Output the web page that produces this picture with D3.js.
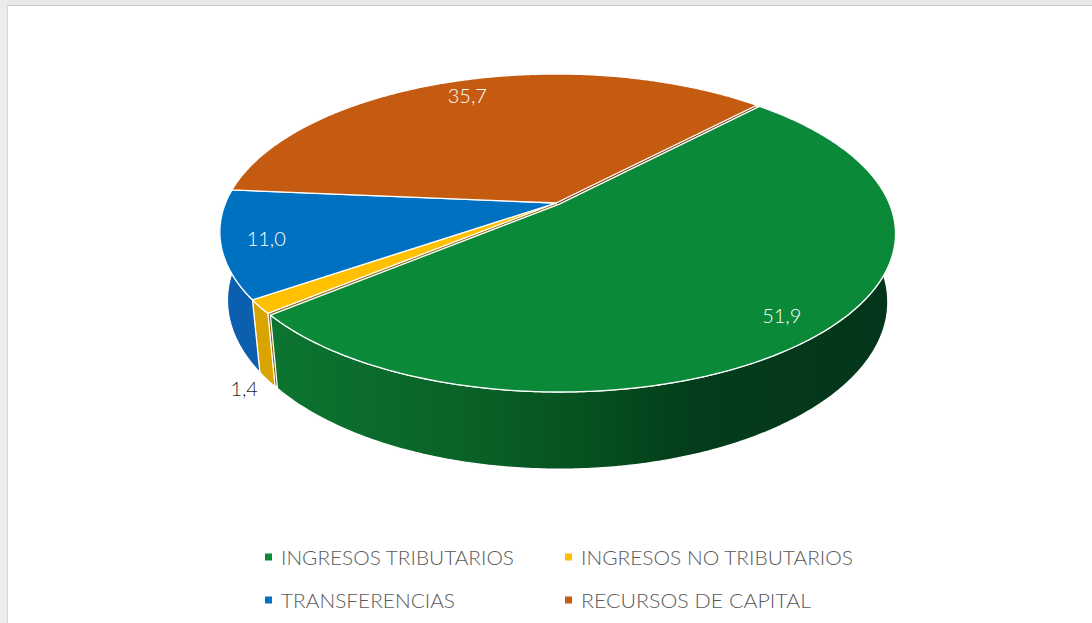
<!DOCTYPE html>
<html><head><meta charset="utf-8">
<script src="https://cdn.jsdelivr.net/npm/d3@7"></script>
<style>html,body{margin:0;padding:0;background:#fff;overflow:hidden}</style>
</head><body>
<svg id="c" width="1092" height="623"></svg>
<script>
const categories = ["INGRESOS TRIBUTARIOS","INGRESOS NO TRIBUTARIOS","TRANSFERENCIAS","RECURSOS DE CAPITAL"];
const values = [51.9, 1.4, 11.0, 35.7];
const valueLabels = ["51,9","1,4","11,0","35,7"];
const topColors = ["#0a8a38","#ffc000","#0070c0","#c55a11"];
const legendColors = ["#0a8a38","#ffc000","#0070c0","#c55a11"];

const W = 1092, H = 623;
const svg = d3.select("#c");
svg.append("rect").attr("width",W).attr("height",H).attr("fill","#fff");
// screenshot frame bits
svg.append("rect").attr("x",0).attr("y",0).attr("width",W).attr("height",5).attr("fill","#e7e8ea");
svg.append("rect").attr("x",0).attr("y",0).attr("width",7).attr("height",H).attr("fill","#ececec");
svg.append("line").attr("x1",7).attr("x2",W).attr("y1",5.5).attr("y2",5.5).attr("stroke","#c4c4c4");
svg.append("line").attr("x1",7.5).attr("x2",7.5).attr("y1",5).attr("y2",H).attr("stroke","#d6d6d6");

// perspective projection of a cylinder (radius 1)
const P = {cx:556, cy:203, f:1597, s:0.462, c:0.887, D:4.833, h:0.2348};
function proj(x, z, y){
  const Yc = y*P.c + z*P.s, Zc = P.D + z*P.c - y*P.s;
  return [P.cx + P.f*x/Zc, P.cy - P.f*Yc/Zc];
}
const b0 = 43.5*Math.PI/180;
const pie = d3.pie().sort(null).value(d=>d).startAngle(b0).endAngle(b0+2*Math.PI);
const arcs = pie(values);
const explode = [0.012,0,0,0];
arcs.forEach((a,i)=>{
  const m=(a.startAngle+a.endAngle)/2;
  a.ox = explode[i]*Math.sin(m); a.oz = explode[i]*Math.cos(m);
  a.mid = m;
});
function arcPts(a, t0, t1, y, r){
  r = r===undefined?1:r;
  const n = Math.max(2, Math.ceil(Math.abs(t1-t0)/0.01));
  const pts=[];
  for(let k=0;k<=n;k++){
    const t = t0+(t1-t0)*k/n;
    pts.push(proj(a.ox + r*Math.sin(t), a.oz + r*Math.cos(t), y));
  }
  return pts;
}
const line = d3.line();
const defs = svg.append("defs");
function grad(id, stops){
  const g = defs.append("linearGradient").attr("id",id).attr("gradientUnits","userSpaceOnUse")
    .attr("x1",220).attr("x2",893).attr("y1",0).attr("y2",0);
  stops.forEach(s=>g.append("stop").attr("offset",s[0]).attr("stop-color",s[1]));
}
grad("gw0",[[0,"#0c7631"],[0.1,"#0c7330"],[0.35,"#0a6328"],[0.55,"#06501f"],[0.7,"#043d1b"],[1,"#03351a"]]);
grad("gw1",[[0,"#d9a300"],[1,"#d9a300"]]);
grad("gw2",[[0,"#0b5fae"],[1,"#0b5fae"]]);
grad("gw3",[[0,"#a24a0e"],[1,"#a24a0e"]]);
const cutColors = ["#03371a","#8d6a12","#0b4f90","#7e3a0c"];

const g = svg.append("g");
const y0 = 0, y1 = -P.h;
// cut faces of slices adjacent to the exploded one
const n = arcs.length;
arcs.forEach((a,i)=>{
  if(!explode[i]) return;
  const prev = arcs[(i-1+n)%n], next = arcs[(i+1)%n];
  [[prev, prev.endAngle],[next, next.startAngle]].forEach(([s,t])=>{
    const pts = [proj(s.ox,s.oz,y0), proj(s.ox+Math.sin(t), s.oz+Math.cos(t), y0),
                 proj(s.ox+Math.sin(t), s.oz+Math.cos(t), y1), proj(s.ox,s.oz,y1)];
    g.append("path").attr("d", line(pts)+"Z").attr("fill", cutColors[arcs.indexOf(s)])
      .attr("stroke","#fff").attr("stroke-width",1);
  });
});
// outer walls (near half only)
arcs.forEach((a,i)=>{
  const ranges=[[Math.PI/2,1.5*Math.PI],[2.5*Math.PI,3.5*Math.PI]];
  ranges.forEach(([lo,hi])=>{
    const t0=Math.max(a.startAngle,lo), t1=Math.min(a.endAngle,hi);
    if(t1<=t0) return;
    const top = arcPts(a,t0,t1,y0), bot = arcPts(a,t1,t0,y1);
    g.append("path").attr("d", line(top.concat(bot))+"Z").attr("fill","url(#gw"+i+")")
      .attr("stroke","#fff").attr("stroke-width",1.2).attr("stroke-linejoin","round");
  });
});
// top faces
arcs.forEach((a,i)=>{
  const pts = [proj(a.ox,a.oz,y0)].concat(arcPts(a,a.startAngle,a.endAngle,y0));
  g.append("path").attr("d", line(pts)+"Z").attr("fill",topColors[i])
    .attr("stroke","#fff").attr("stroke-width",1.3).attr("stroke-linejoin","round");
});
// data labels
arcs.forEach((a,i)=>{
  const small = values[i] < 5;
  const r = small ? 1.07 : 0.87;
  const p = proj(a.ox + r*Math.sin(a.mid), a.oz + r*Math.cos(a.mid), small ? y1 : y0);
  g.append("text").attr("x",p[0]).attr("y",p[1]).attr("text-anchor","middle")
    .attr("dominant-baseline","central")
    .attr("font-family","Lato, 'Open Sans', sans-serif").attr("font-weight",300).attr("font-size",20)
    .attr("fill", small ? "#262626" : "#ffffff").text(valueLabels[i]);
});

// legend
const lx = d3.scaleOrdinal().domain([0,1]).range([265,565]);
const ly = d3.scaleOrdinal().domain([0,1]).range([557,600]);
const legendW = [233,272,174,230];
const lg = svg.append("g");
categories.forEach((c,i)=>{
  const col = i%2, row = Math.floor(i/2);
  const x = lx(col), y = ly(row);
  lg.append("rect").attr("x",x).attr("y",y-3.5).attr("width",7).attr("height",7).attr("fill",legendColors[i]);
  lg.append("text").attr("x",x+16).attr("y",y+7.5)
    .attr("font-family","Lato, 'Open Sans', sans-serif").attr("font-weight",300).attr("font-size",20.5)
    .attr("fill","#595959").attr("textLength",legendW[i]).attr("lengthAdjust","spacingAndGlyphs").text(c);
});
</script>
</body></html>
